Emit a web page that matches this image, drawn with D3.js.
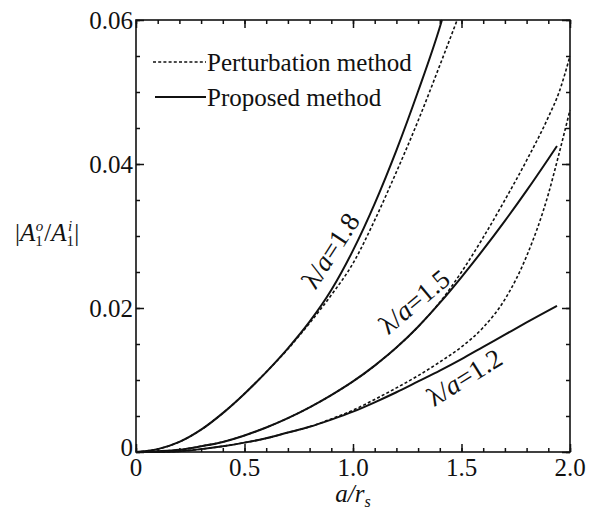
<!DOCTYPE html>
<html>
<head>
<meta charset="utf-8">
<style>
  body { margin: 0; background: #fff; }
  text { font-family: "Liberation Serif", "Times New Roman", serif; fill: #111; }
  .curve { fill: none; stroke: #111; }
  .prop { stroke-width: 2; }
  .pert { stroke-width: 1.6; stroke-dasharray: 3,2.2; }
  .axis path, .axis line { stroke: #111; stroke-width: 1.5; }
</style>
</head>
<body>
<script src="https://d3js.org/d3.v7.min.js"></script>
<script>
  var margin = { top: 20, right: 23, bottom: 63, left: 136 }
    , width = 593 - margin.left - margin.right
    , height = 515 - margin.top - margin.bottom;

  // proposed method (solid)
  var prop18_x = [0, 0.1, 0.2, 0.3, 0.4, 0.5, 0.6, 0.7, 0.8, 0.9, 1.0, 1.1, 1.2, 1.3, 1.4, 1.41];
  var prop18_y = [0, 0.0004, 0.0014, 0.0031, 0.0054, 0.0081, 0.0111, 0.0144, 0.0181, 0.0225, 0.028, 0.0345, 0.0419, 0.0501, 0.059, 0.06];
  var prop15_x = [0, 0.1, 0.2, 0.3, 0.4, 0.5, 0.6, 0.7, 0.8, 0.9, 1.0, 1.1, 1.2, 1.3, 1.4, 1.5, 1.6, 1.7, 1.8, 1.9, 1.94];
  var prop15_y = [0, 0.0001, 0.0003, 0.0008, 0.0014, 0.0023, 0.0034, 0.0047, 0.0062, 0.0079, 0.0098, 0.012, 0.0145, 0.0174, 0.0207, 0.0243, 0.0281, 0.0321, 0.0363, 0.0407, 0.0425];
  var prop12_x = [0, 0.1, 0.2, 0.3, 0.4, 0.5, 0.6, 0.7, 0.8, 0.9, 1.0, 1.1, 1.2, 1.3, 1.4, 1.5, 1.6, 1.7, 1.8, 1.94];
  var prop12_y = [0, 0, 0.0001, 0.0004, 0.0008, 0.0013, 0.0019, 0.0027, 0.0035, 0.0045, 0.0056, 0.0069, 0.0083, 0.0098, 0.0113, 0.0129, 0.0146, 0.0163, 0.018, 0.0203];

  // perturbation method (dashed)
  var pert18_x = [0, 0.1, 0.2, 0.3, 0.4, 0.5, 0.6, 0.7, 0.8, 0.9, 1.0, 1.1, 1.2, 1.3, 1.4, 1.48];
  var pert18_y = [0, 0.0004, 0.0014, 0.0031, 0.0054, 0.0081, 0.0111, 0.0143, 0.0179, 0.0218, 0.0262, 0.0322, 0.0389, 0.046, 0.0537, 0.06];
  var pert15_x = [0, 0.1, 0.2, 0.3, 0.4, 0.5, 0.6, 0.7, 0.8, 0.9, 1.0, 1.1, 1.2, 1.3, 1.4, 1.5, 1.6, 1.7, 1.8, 1.9, 1.95, 2.0];
  var pert15_y = [0, 0.0001, 0.0003, 0.0008, 0.0014, 0.0023, 0.0034, 0.0047, 0.0062, 0.0079, 0.0098, 0.012, 0.0145, 0.0174, 0.0208, 0.025, 0.0298, 0.035, 0.0405, 0.0465, 0.05, 0.055];
  var pert12_x = [0, 0.1, 0.2, 0.3, 0.4, 0.5, 0.6, 0.7, 0.8, 0.9, 1.0, 1.1, 1.2, 1.3, 1.4, 1.5, 1.6, 1.7, 1.8, 1.9, 1.95, 2.0];
  var pert12_y = [0, 0, 0.0001, 0.0004, 0.0008, 0.0013, 0.0019, 0.0027, 0.0035, 0.0046, 0.0058, 0.0073, 0.0089, 0.0106, 0.0125, 0.0146, 0.0173, 0.0212, 0.0272, 0.0358, 0.0415, 0.0475];

  var xMajor = [0, 0.5, 1.0, 1.5, 2.0];
  var xLabels = ["0", "0.5", "1.0", "1.5", "2.0"];
  var yMajor = [0, 0.02, 0.04, 0.06];
  var yLabels = ["0", "0.02", "0.04", "0.06"];

  var curveLabels = ["1.8", "1.5", "1.2"];
  var labelX = [0.895, 1.281, 1.512];
  var labelY = [0.028, 0.0209, 0.0104];
  var labelAngle = [-57, -40, -32];

  var xScale = d3.scaleLinear().domain([0, 2]).range([0, width]);
  var yScale = d3.scaleLinear().domain([0, 0.06]).range([height, 0]);

  var svg = d3.select("body").append("svg")
    .attr("width", 593)
    .attr("height", 515)
    .append("g")
    .attr("transform", "translate(" + margin.left + "," + margin.top + ")");

  var xMinor = d3.range(0, 21).map(function (i) { return i / 10; });
  var yMinor = d3.range(0, 13).map(function (i) { return i * 0.005; });

  // ticks on all four sides, pointing inward
  function ticks(axisFn, vals, size, tr) {
    var g = svg.append("g").attr("class", "axis").attr("transform", tr || null)
      .call(axisFn.tickValues(vals).tickSize(size).tickFormat(""));
    g.select(".domain").remove();
    return g;
  }
  ticks(d3.axisBottom(xScale), xMinor, -4, "translate(0," + height + ")");
  ticks(d3.axisTop(xScale), xMinor, -4);
  ticks(d3.axisLeft(yScale), yMinor, -4);
  ticks(d3.axisRight(yScale), yMinor, -4, "translate(" + width + ",0)");
  ticks(d3.axisBottom(xScale), xMajor, -8, "translate(0," + height + ")");
  ticks(d3.axisTop(xScale), xMajor, -8);
  ticks(d3.axisLeft(yScale), yMajor, -8);
  ticks(d3.axisRight(yScale), yMajor, -8, "translate(" + width + ",0)");

  svg.append("rect")
    .attr("width", width).attr("height", height)
    .attr("fill", "none").attr("stroke", "#111").attr("stroke-width", 1.6);

  // tick labels
  svg.append("g").selectAll("text")
    .data(xMajor).enter().append("text")
    .attr("x", function (d) { return xScale(d); })
    .attr("y", height + 24)
    .attr("text-anchor", "middle")
    .attr("font-size", 25)
    .text(function (d, i) { return xLabels[i]; });

  svg.append("g").selectAll("text")
    .data(yMajor).enter().append("text")
    .attr("x", -3)
    .attr("y", function (d) { return yScale(d) + (d === 0 ? 4 : 9); })
    .attr("text-anchor", "end")
    .attr("font-size", 25)
    .text(function (d, i) { return yLabels[i]; });

  // curves
  var line = d3.line()
    .x(function (d) { return xScale(d[0]); })
    .y(function (d) { return yScale(d[1]); })
    .curve(d3.curveMonotoneX);

  function series(xs, ys) { return xs.map(function (x, i) { return [x, ys[i]]; }); }

  [[pert18_x, pert18_y], [pert15_x, pert15_y], [pert12_x, pert12_y]].forEach(function (s) {
    svg.append("path").datum(series(s[0], s[1])).attr("class", "curve pert").attr("d", line);
  });
  [[prop18_x, prop18_y], [prop15_x, prop15_y], [prop12_x, prop12_y]].forEach(function (s) {
    svg.append("path").datum(series(s[0], s[1])).attr("class", "curve prop").attr("d", line);
  });

  // curve labels
  curveLabels.forEach(function (lab, i) {
    var t = svg.append("text")
      .attr("transform", "translate(" + xScale(labelX[i]) + "," + yScale(labelY[i]) + ") rotate(" + labelAngle[i] + ")")
      .attr("text-anchor", "middle")
      .attr("dy", "0.35em")
      .attr("font-size", 27);
    t.append("tspan").text("λ/");
    t.append("tspan").attr("font-style", "italic").text("a");
    t.append("tspan").text("=" + lab);
  });

  // legend
  var legend = svg.append("g").attr("transform", "translate(17,42)");
  legend.append("line").attr("x1", 0).attr("x2", 53).attr("y1", 0).attr("y2", 0)
    .attr("class", "curve pert");
  legend.append("text").attr("x", 54).attr("y", 9).attr("font-size", 25).text("Perturbation method");
  legend.append("line").attr("x1", 2).attr("x2", 53).attr("y1", 35).attr("y2", 35)
    .attr("class", "curve prop");
  legend.append("text").attr("x", 54).attr("y", 44).attr("font-size", 25).text("Proposed method");

  // axis titles
  var xt = svg.append("text")
    .attr("x", width / 2).attr("y", height + 50)
    .attr("text-anchor", "middle").attr("font-size", 25).attr("font-style", "italic");
  xt.append("tspan").text("a/r");
  xt.append("tspan").attr("font-size", 16).attr("dy", 5).text("s");

  var yt = svg.append("text")
    .attr("x", -121).attr("y", 221)
    .attr("font-size", 25);
  yt.append("tspan").text("|");
  yt.append("tspan").attr("font-style", "italic").text("A");
  yt.append("tspan").attr("font-size", 15).attr("dy", 5).text("1");
  yt.append("tspan").attr("font-size", 15).attr("font-style", "italic").attr("dx", -7).attr("dy", -15).text("o");
  yt.append("tspan").attr("dy", 10).attr("dx", 1).text("/");
  yt.append("tspan").attr("font-style", "italic").text("A");
  yt.append("tspan").attr("font-size", 15).attr("dy", 5).text("1");
  yt.append("tspan").attr("font-size", 15).attr("font-style", "italic").attr("dx", -6).attr("dy", -15).text("i");
  yt.append("tspan").attr("dy", 10).attr("dx", 2).text("|");
</script>
</body>
</html>
